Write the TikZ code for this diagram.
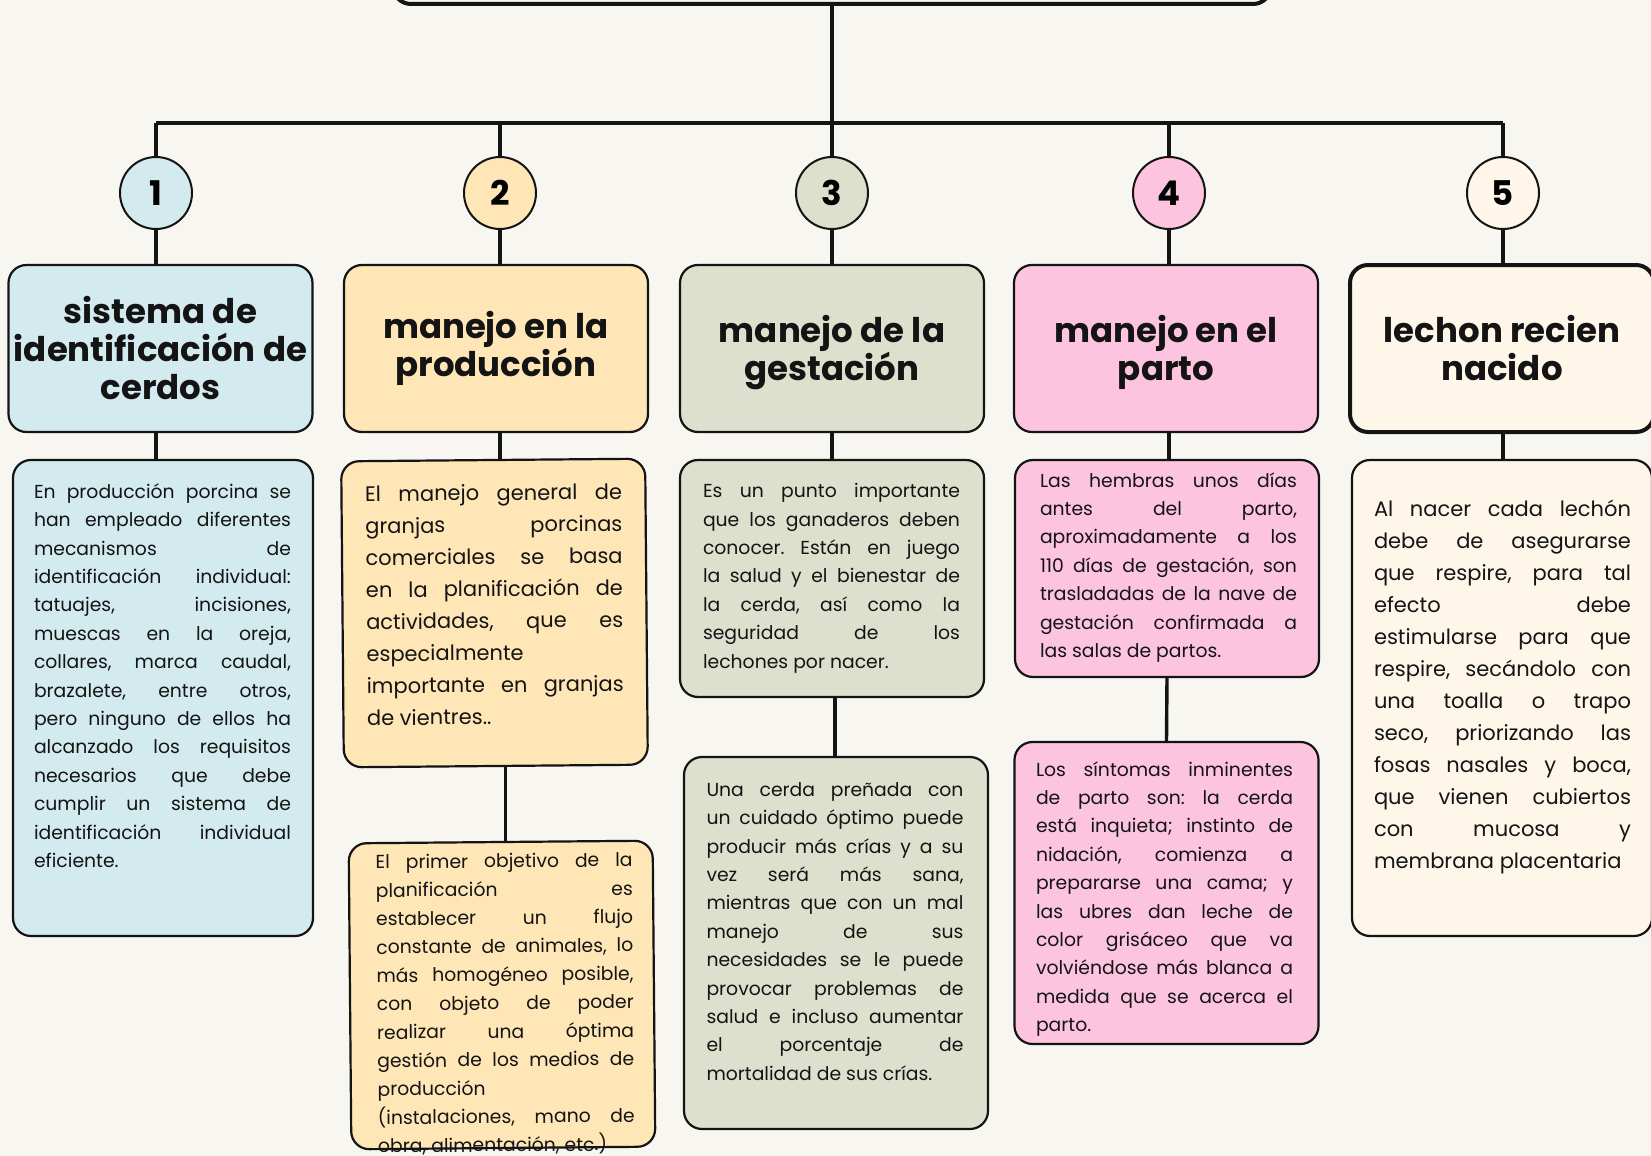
\documentclass[tikz,border=0pt]{standalone}
\usepackage{fontspec}
\setmainfont{Poppins}
\usepackage{xcolor}
\usetikzlibrary{positioning}
\definecolor{paper}{HTML}{F7F6F1}
\definecolor{ink}{HTML}{141414}
\definecolor{celeste}{HTML}{D3EBEE}
\definecolor{crema}{HTML}{FEE6B6}
\definecolor{salvia}{HTML}{DCE0CD}
\definecolor{rosa}{HTML}{FDC4DF}
\definecolor{marfil}{HTML}{FEF7E9}
\tolerance=10000
\hbadness=10000
\hyphenpenalty=10000
\frenchspacing

\begin{document}
\begin{tikzpicture}[x=0.5pt,y=-0.5pt]
    \tikzstyle{numcircle}=[shape=circle,draw=ink,line width=1pt,minimum size=36pt,inner sep=0pt,font=\fontsize{17}{19}\selectfont\bfseries]
    \tikzstyle{headbox}=[shape=rectangle,rounded corners=9pt,draw=ink,line width=1.1pt,minimum width=152pt,minimum height=83.5pt,align=center,inner sep=0pt,text=ink,font=\fontsize{17}{19}\selectfont\bfseries]
    \tikzstyle{infobox}=[shape=rectangle,rounded corners=9pt,draw=ink,line width=1.1pt,minimum width=152pt,inner sep=0pt]
    \tikzstyle{infotext}=[anchor=north,inner sep=0pt,text width=128.5pt,align=justify,text=ink,font=\fontsize{9.4}{14.2}\selectfont\frenchspacing]
    \tikzstyle{bigtext}=[infotext,font=\fontsize{10.5}{16}\selectfont\frenchspacing]
    \tikzstyle{link}=[draw=ink,line width=1.7pt]

    \useasboundingbox (0,0) rectangle (1651,1156);
    \fill[paper] (0,0) rectangle (1651,1156);

    \node[headbox,line width=2pt,minimum width=439pt,minimum height=60pt] (title) at (832,-56) {};

    \coordinate (hL) at (156,123);
    \coordinate (hR) at (1503,123);

    \node[numcircle,fill=celeste] (n1) at (156,193) {1};
    \node[numcircle,fill=crema] (n2) at (500,193) {2};
    \node[numcircle,fill=salvia] (n3) at (832,193) {3};
    \node[numcircle,fill=rosa] (n4) at (1169,193) {4};
    \node[numcircle,fill=marfil] (n5) at (1503,193) {5};

    \node[headbox,fill=celeste] (h1) at (160.5,348.5) {sistema de\\identificación de\\cerdos};
    \node[headbox,fill=crema] (h2) at (496,348.5) {manejo en la\\producción};
    \node[headbox,fill=salvia] (h3) at (832,348.5) {\rule{0pt}{18pt}manejo de la\\gestación};
    \node[headbox,fill=rosa] (h4) at (1166,348.5) {\rule{0pt}{18pt}manejo en el\\parto};
    \node[headbox,fill=marfil,line width=2pt] (h5) at (1502,348.5) {lechon recien\\nacido};

    \node[infobox,fill=celeste,minimum width=150pt,minimum height=238pt] (d1) at (163,698) {};
    \node[infobox,fill=crema,rotate=0.5,minimum height=153pt] (d2a) at (494.5,613) {};
    \node[infobox,fill=crema,rotate=0.5,minimum height=153pt] (d2b) at (502,995) {};
    \node[infobox,fill=salvia,minimum height=118.5pt] (d3a) at (832,578.5) {};
    \node[infobox,fill=salvia,minimum height=186pt] (d3b) at (836,943) {};
    \node[infobox,fill=rosa,minimum height=108.5pt] (d4a) at (1167,568.5) {};
    \node[infobox,fill=rosa,minimum height=151pt] (d4b) at (1166.5,893) {};
    \node[infobox,fill=marfil,minimum width=150pt,minimum height=238pt] (d5) at (1502,698) {};

    \node[infotext] (t1) at (162.5,483) {En producción porcina se\linebreak
      han empleado diferentes\linebreak mecanismos de\linebreak
      identificación individual:\linebreak tatuajes, incisiones,\linebreak
      muescas en la oreja,\linebreak collares, marca caudal,\linebreak
      brazalete, entre otros,\linebreak pero ninguno de ellos ha\linebreak
      alcanzado los requisitos\linebreak necesarios que debe\linebreak
      cumplir un sistema de\linebreak identificación individual\linebreak
      eficiente.};
    \node[bigtext,rotate=0.5] (t2a) at (493.5,484) {El manejo general de\linebreak
      granjas porcinas\linebreak comerciales se basa\linebreak
      en la planificación de\linebreak actividades, que es\linebreak
      especialmente\\ importante en granjas\linebreak de vientres..};
    \node[infotext,rotate=0.5] (t2b) at (504,853) {El primer objetivo de la\linebreak
      planificación es\linebreak establecer un flujo\linebreak
      constante de animales, lo\linebreak más homogéneo posible,\linebreak
      con objeto de poder\linebreak realizar una óptima\linebreak
      gestión de los medios de\linebreak producción\\
      (instalaciones, mano de\linebreak obra, alimentación, etc.)};
    \node[infotext] (t3a) at (831.5,483) {Es un punto importante\linebreak
      que los ganaderos deben\linebreak conocer. Están en juego\linebreak
      la salud y el bienestar de\linebreak la cerda, así como la\linebreak
      seguridad de los\linebreak lechones por nacer.};
    \node[infotext] (t3b) at (835,782) {Una cerda preñada con\linebreak
      un cuidado óptimo puede\linebreak producir más crías y a su\linebreak
      vez será más sana,\linebreak mientras que con un mal\linebreak
      manejo de sus\linebreak necesidades se le puede\linebreak
      provocar problemas de\linebreak salud e incluso aumentar\linebreak
      el porcentaje de\linebreak mortalidad de sus crías.};
    \node[infotext] (t4a) at (1168.5,472) {Las hembras unos días\linebreak
      antes del parto,\linebreak aproximadamente a los\linebreak
      110 días de gestación, son\linebreak trasladadas de la nave de\linebreak
      gestación confirmada a\linebreak las salas de partos.};
    \node[infotext] (t4b) at (1164.5,761) {Los síntomas inminentes\linebreak
      de parto son: la cerda\linebreak está inquieta; instinto de\linebreak
      nidación, comienza a\linebreak prepararse una cama; y\linebreak
      las ubres dan leche de\linebreak color grisáceo que va\linebreak
      volviéndose más blanca a\linebreak medida que se acerca el\linebreak
      parto.};
    \node[bigtext] (t5) at (1502.5,500) {Al nacer cada lechón\linebreak
      debe de asegurarse\linebreak que respire, para tal\linebreak
      efecto debe\linebreak estimularse para que\linebreak
      respire, secándolo con\linebreak una toalla o trapo\linebreak
      seco, priorizando las\linebreak fosas nasales y boca,\linebreak
      que vienen cubiertos\linebreak con mucosa y\linebreak
      membrana placentaria};

    \draw[link,line width=2.2pt] (hL) -- (hR);

    \path[link]
    (title.south) edge (title.south |- hL)
    (n1 |- hL) edge (n1.north)
    (n2 |- hL) edge (n2.north)
    (n3 |- hL) edge (n3.north)
    (n4 |- hL) edge (n4.north)
    (n5 |- hL) edge (n5.north)
    (n1.south) edge (n1.south |- h1.north)
    (n2.south) edge (n2.south |- h2.north)
    (n3.south) edge (n3.south |- h3.north)
    (n4.south) edge (n4.south |- h4.north)
    (n5.south) edge (n5.south |- h5.north)
    (h1.south -| n1) edge (d1.north -| n1)
    (h2.south -| n2) edge (d2a.north -| n2)
    (h3.south -| n3) edge (d3a.north -| n3)
    (h4.south -| n4) edge (d4a.north -| n4)
    (h5.south -| n5) edge (d5.north -| n5)
    (d2a.south -| t2b) edge (d2b.north -| t2b)
    (d3a.south -| t3b) edge (d3b.north -| t3b)
    (d4a.south) edge (d4b.north)
    ;
\end{tikzpicture}
\end{document}
